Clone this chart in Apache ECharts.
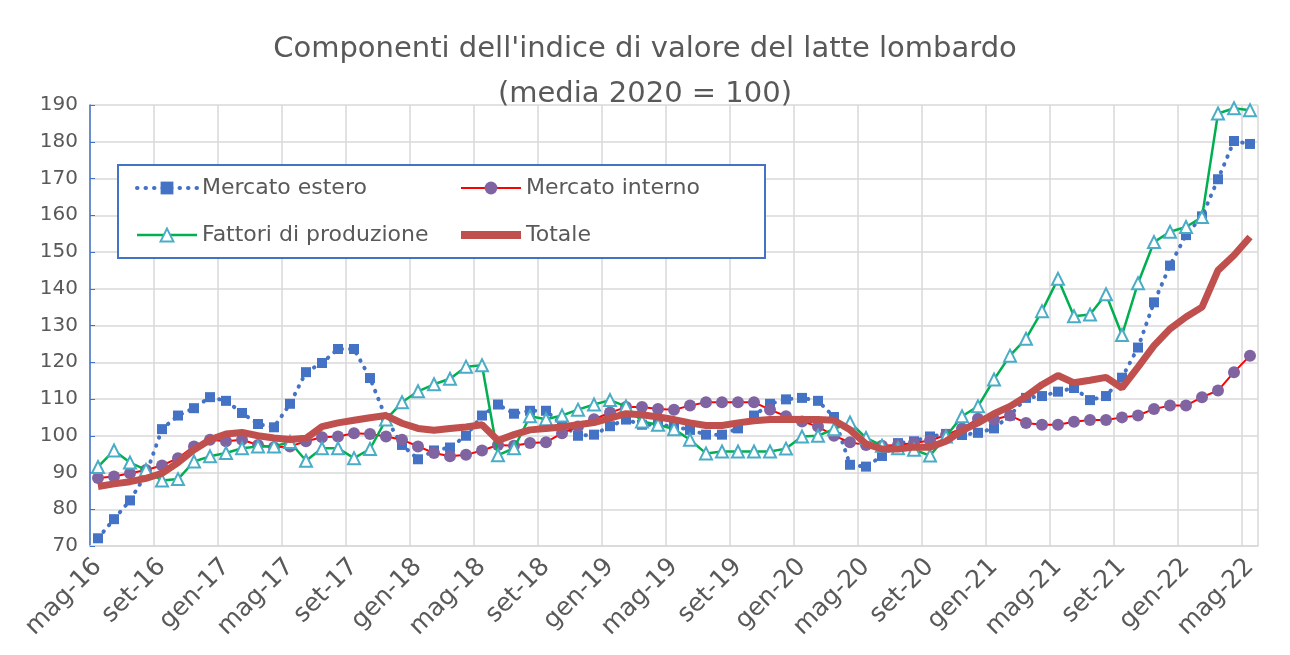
<!DOCTYPE html>
<html>
<head>
<meta charset="utf-8">
<script src="https://cdn.jsdelivr.net/npm/echarts@6/dist/echarts.min.js"></script>
<style>
html,body{margin:0;padding:0;background:#fff;}
#chart{width:1290px;height:655px;}
</style>
</head>
<body>
<div id="chart"></div>
<script>
var categories = [
 'mag-16','giu-16','lug-16','ago-16','set-16','ott-16','nov-16','dic-16',
 'gen-17','feb-17','mar-17','apr-17','mag-17','giu-17','lug-17','ago-17','set-17','ott-17','nov-17','dic-17',
 'gen-18','feb-18','mar-18','apr-18','mag-18','giu-18','lug-18','ago-18','set-18','ott-18','nov-18','dic-18',
 'gen-19','feb-19','mar-19','apr-19','mag-19','giu-19','lug-19','ago-19','set-19','ott-19','nov-19','dic-19',
 'gen-20','feb-20','mar-20','apr-20','mag-20','giu-20','lug-20','ago-20','set-20','ott-20','nov-20','dic-20',
 'gen-21','feb-21','mar-21','apr-21','mag-21','giu-21','lug-21','ago-21','set-21','ott-21','nov-21','dic-21',
 'gen-22','feb-22','mar-22','apr-22','mag-22'
];
var mercatoEstero = [
 72.1,77.3,82.4,89.5,101.8,105.5,107.5,110.5,
 109.5,106.2,103.2,102.3,108.7,117.3,119.8,123.6,123.6,115.7,104.8,97.5,
 93.6,96.0,96.8,100.0,105.5,108.5,106.0,106.8,106.8,103.0,100.0,100.3,
 102.6,104.4,103.0,103.0,102.5,101.6,100.3,100.3,102.0,105.5,108.7,109.9,
 110.3,109.5,105.1,92.1,91.6,94.5,98.0,98.5,99.8,100.5,100.2,100.8,
 102.0,105.5,110.3,110.8,112.0,113.0,109.7,110.8,115.8,124.0,136.3,146.3,
 154.6,159.7,169.8,180.2,179.4
];
var mercatoInterno = [
 88.5,88.9,89.8,90.7,91.9,93.9,97.1,98.9,
 98.5,98.9,97.5,96.9,97.1,98.5,99.6,99.8,100.7,100.5,99.8,98.9,
 97.1,95.3,94.4,94.8,96.0,97.5,97.3,98.0,98.2,100.7,102.5,104.5,
 106.3,107.8,107.8,107.3,107.1,108.2,109.1,109.1,109.1,109.1,107.1,105.3,
 103.9,102.5,100.0,98.2,97.5,97.3,97.5,98.0,98.7,100.2,102.0,104.6,
 104.4,105.5,103.5,103.0,103.0,103.8,104.3,104.3,105.0,105.5,107.3,108.2,
 108.2,110.5,112.3,117.3,121.8
];
var fattoriProduzione = [
 91.5,96.0,92.7,90.7,87.8,88.2,93.0,94.4,
 95.3,96.6,97.1,97.1,98.3,93.2,96.6,96.6,93.9,96.4,104.4,109.1,
 112.1,114.0,115.5,118.8,119.2,94.7,96.6,105.3,104.5,105.5,107.1,108.5,
 109.7,108.0,103.9,103.0,101.8,98.9,95.2,95.7,95.7,95.7,95.7,96.5,
 99.8,100.0,101.8,103.6,99.4,97.3,96.6,96.2,94.6,99.8,105.3,108.0,
 115.3,121.8,126.4,133.9,142.7,132.5,133.0,138.5,127.4,141.5,152.7,155.5,
 156.8,159.5,187.7,189.1,188.6
];
var totale = [
 86.2,86.9,87.5,88.4,89.8,92.7,96.2,98.9,
 100.5,100.9,100.0,99.4,99.0,99.3,102.5,103.5,104.2,104.9,105.5,103.4,
 102.0,101.5,102.0,102.4,103.0,98.7,100.3,101.6,102.0,102.4,103.0,103.6,
 104.8,106.0,105.7,105.1,104.4,103.5,102.8,102.8,103.5,104.1,104.4,104.5,
 104.4,104.4,104.2,101.6,97.8,96.4,96.4,96.9,96.9,98.5,101.4,103.5,
 106.0,108.0,110.7,113.9,116.4,114.4,115.1,115.9,113.0,118.7,124.5,129.1,
 132.3,135.0,145.0,149.1,154.1
];
var seriesNames = ['Mercato estero','Mercato interno','Fattori di produzione','Totale'];
var titleLines = ["Componenti dell'indice di valore del latte lombardo", '(media 2020 = 100)'];

var FONT = 'DejaVu Sans';
var TXT = '#595959';
var chart = echarts.init(document.getElementById('chart'), null, {renderer:'canvas'});
var legendText = {fontSize:22, color:TXT, fontFamily:FONT};
chart.setOption({
  animation:false,
  backgroundColor:'#ffffff',
  title:{
    text: titleLines.join('\n'),
    left:'center', top:22,
    textStyle:{fontSize:29, fontWeight:'normal', color:TXT, fontFamily:FONT, lineHeight:45}
  },
  graphic:[{
    type:'rect', shape:{x:118, y:165, width:647, height:93},
    style:{fill:'#ffffff', stroke:'#4472C4', lineWidth:2}, z:5
  }],
  legend:[
    {data:[
       {name:seriesNames[0]},
       {name:seriesNames[2]}
     ], orient:'vertical', left:130, top:172, itemGap:25,
     itemWidth:60, itemHeight:16, textStyle:legendText, lineStyle:{width:'inherit'}, z:10},
    {data:[
       {name:seriesNames[1]},
       {name:seriesNames[3], icon:'path://M0,0H60V8H0Z'}
     ], orient:'vertical', left:455, top:172, itemGap:25,
     itemWidth:60, itemHeight:16, textStyle:legendText, lineStyle:{width:'inherit'}, z:10}
  ],
  grid:{left:90, right:32, top:105, bottom:109, containLabel:false},
  xAxis:{
    type:'category', data:categories, boundaryGap:true,
    axisLine:{show:true, lineStyle:{color:'#d9d9d9', width:1.5}},
    axisTick:{show:false, interval:3},
    splitLine:{show:true, interval:3, lineStyle:{color:'#d9d9d9', width:1.5}},
    axisLabel:{interval:3, rotate:45, fontSize:25, color:TXT, fontFamily:FONT, margin:17}
  },
  yAxis:{
    type:'value', min:70, max:190, interval:10,
    axisLine:{show:true, lineStyle:{color:'#4472C4', width:1.5}},
    axisTick:{show:true, inside:true, length:5, lineStyle:{color:'#4472C4'}},
    splitLine:{show:true, lineStyle:{color:'#d9d9d9', width:1.5}},
    axisLabel:{fontSize:20, color:TXT, fontFamily:FONT, margin:12}
  },
  series:[
    {name:seriesNames[0], type:'line', data:mercatoEstero, symbol:'rect', symbolSize:10, showAllSymbol:true,
     lineStyle:{color:'#4472C4', width:4, type:[0.5,8], cap:'round'},
     itemStyle:{color:'#4472C4'}, z:2},
    {name:seriesNames[1], type:'line', data:mercatoInterno, symbol:'circle', symbolSize:12, showAllSymbol:true,
     lineStyle:{color:'#FF0000', width:2},
     itemStyle:{color:'#8064A2'}, z:3},
    {name:seriesNames[2], type:'line', data:fattoriProduzione, symbol:'emptyTriangle', symbolSize:12, showAllSymbol:true,
     lineStyle:{color:'#00B050', width:2.5},
     itemStyle:{color:'#4BACC6', borderWidth:1.2}, z:4},
    {name:seriesNames[3], type:'line', data:totale, symbol:'circle', showSymbol:false,
     lineStyle:{color:'#C0504D', width:7},
     itemStyle:{color:'#C0504D'}, z:5}
  ]
});
</script>
</body>
</html>
